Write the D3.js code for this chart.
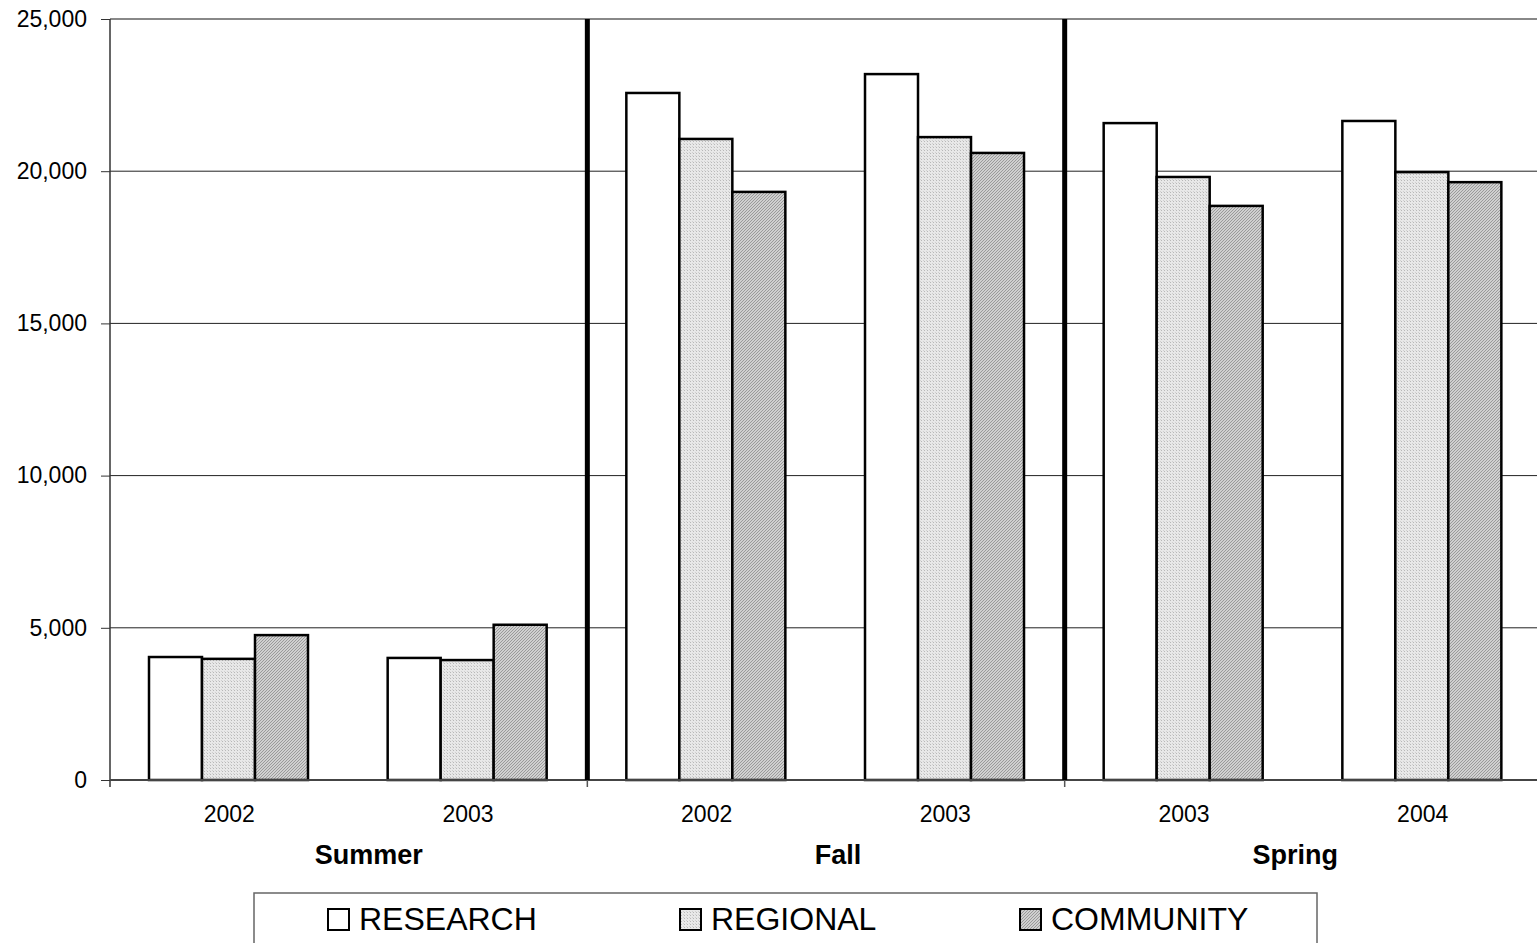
<!DOCTYPE html>
<html>
<head>
<meta charset="utf-8">
<script src="https://cdn.jsdelivr.net/npm/d3@7"></script>
<style>
html,body{margin:0;padding:0;background:#fff;overflow:hidden;}
svg{display:block;font-family:"Liberation Sans",Arial,sans-serif;}
</style>
</head>
<body>
<svg id="chart" width="1537" height="943"></svg>
<script>
const groups = ["Summer","Summer","Fall","Fall","Spring","Spring"];
const years = ["2002","2003","2002","2003","2003","2004"];
const groupNames = ["Summer","Fall","Spring"];
const seriesNames = ["RESEARCH","REGIONAL","COMMUNITY"];
const research = [4040, 4010, 22570, 23190, 21580, 21650];
const regional = [3980, 3940, 21060, 21120, 19810, 19970];
const community = [4760, 5100, 19320, 20600, 18860, 19640];
const yTicks = [0, 5000, 10000, 15000, 20000, 25000];

const series = [research, regional, community];
const catKeys = years.map((y,i)=>groups[i]+"-"+y);

const svg = d3.select("#chart");
const plotLeft = 110, plotTop = 19, plotBottom = 780, bandW = 238.67;
const plotRight = plotLeft + bandW*6;

const defs = svg.append("defs");
const p1 = defs.append("pattern").attr("id","pReg").attr("patternUnits","userSpaceOnUse").attr("width",3).attr("height",3);
p1.append("rect").attr("width",3).attr("height",3).attr("fill","#e8e8e8");
p1.append("rect").attr("x",0).attr("y",0).attr("width",1).attr("height",1).attr("fill","#b8b8b8");
p1.append("rect").attr("x",2).attr("y",2).attr("width",1).attr("height",1).attr("fill","#d0d0d0");
const p2 = defs.append("pattern").attr("id","pCom").attr("patternUnits","userSpaceOnUse").attr("width",3).attr("height",3);
p2.append("rect").attr("width",3).attr("height",3).attr("fill","#d0d0d0");
p2.append("path").attr("d","M0,3 L3,0 M-1,1 L1,-1 M2,4 L4,2").attr("stroke","#9a9a9a").attr("stroke-width",1);
const fills = ["#ffffff","url(#pReg)","url(#pCom)"];

const x = d3.scaleBand().domain(catKeys).range([plotLeft, plotRight]).paddingInner(0).paddingOuter(0);
const xInner = d3.scaleBand().domain(seriesNames).range([39, 39+159]);
const y = d3.scaleLinear().domain([0, 25000]).range([plotBottom, plotTop]);

// gridlines
svg.append("g").selectAll("line").data(yTicks.filter(t=>t>0 && t<25000)).join("line")
  .attr("x1", plotLeft).attr("x2", plotRight).attr("y1", d=>y(d)).attr("y2", d=>y(d))
  .attr("stroke","#222").attr("stroke-width",1);
svg.append("line").attr("x1",plotLeft).attr("x2",plotRight).attr("y1",y(25000)).attr("y2",y(25000))
  .attr("stroke","#888").attr("stroke-width",2);

// y axis
const yAxis = d3.axisLeft(y).tickValues(yTicks).tickSize(9).tickPadding(14).tickFormat(d3.format(","));
const ya = svg.append("g").attr("transform",`translate(${plotLeft},0)`).call(yAxis);
ya.select(".domain").remove();
ya.selectAll(".tick line").attr("stroke","#333");
ya.selectAll("text").attr("font-size","23px").attr("fill","#000").attr("font-family","Liberation Sans, Arial, sans-serif");
svg.append("line").attr("x1",plotLeft).attr("x2",plotLeft).attr("y1",plotTop).attr("y2",plotBottom+7).attr("stroke","#333").attr("stroke-width",1.5);

// bars
seriesNames.forEach((s, si) => {
  svg.append("g").selectAll("rect").data(series[si]).join("rect")
    .attr("x", (d,i)=> x(catKeys[i]) + xInner(s))
    .attr("width", xInner.bandwidth())
    .attr("y", d=>y(d))
    .attr("height", d=> y(0)-y(d))
    .attr("fill", fills[si])
    .attr("stroke","#000").attr("stroke-width",2.5);
});

// x axis line
svg.append("line").attr("x1",plotLeft).attr("x2",plotRight).attr("y1",plotBottom).attr("y2",plotBottom).attr("stroke","#444").attr("stroke-width",2);

// group separators
const sepIdx = [2,4];
sepIdx.forEach(i=>{
  const sx = x(catKeys[i]);
  svg.append("line").attr("x1",sx).attr("x2",sx).attr("y1",plotTop).attr("y2",plotBottom).attr("stroke","#000").attr("stroke-width",5);
  svg.append("line").attr("x1",sx).attr("x2",sx).attr("y1",plotBottom).attr("y2",plotBottom+7).attr("stroke","#555").attr("stroke-width",1.5);
});

// category labels
svg.append("g").selectAll("text").data(catKeys).join("text")
  .attr("x", d=> x(d)+x.bandwidth()/2).attr("y", 822)
  .attr("text-anchor","middle").attr("font-size","23px").attr("fill","#000")
  .text((d,i)=>years[i]);

// group labels (nudged as in the reference)
const groupNudge = [20, 12, -8];
svg.append("g").selectAll("text").data(groupNames).join("text")
  .attr("x", (g,gi)=> { const idx = groups.map((v,i)=>v===g?i:-1).filter(i=>i>=0); return (x(catKeys[idx[0]]) + x(catKeys[idx[idx.length-1]]) + x.bandwidth())/2 + groupNudge[gi]; })
  .attr("y", 864).attr("text-anchor","middle").attr("font-size","27px").attr("font-weight","bold").attr("fill","#000")
  .text(d=>d);

// legend
const lg = svg.append("g");
lg.append("rect").attr("x",254).attr("y",893).attr("width",1063).attr("height",70)
  .attr("fill","#fff").attr("stroke","#666").attr("stroke-width",1.5);
const legX = [328, 680, 1020];
seriesNames.forEach((s,i)=>{
  lg.append("rect").attr("x",legX[i]).attr("y",909).attr("width",21).attr("height",21)
    .attr("fill",fills[i]).attr("stroke","#000").attr("stroke-width",2);
  lg.append("text").attr("x",legX[i]+31).attr("y",930).attr("font-size","32px").attr("fill","#000").text(s);
});
</script>
</body>
</html>
